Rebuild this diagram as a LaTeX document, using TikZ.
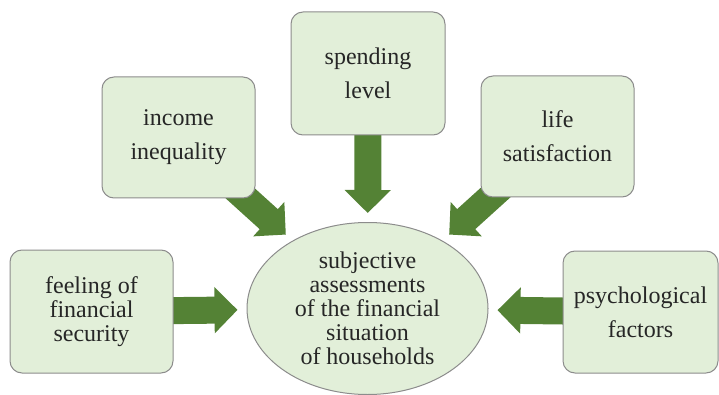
\documentclass[tikz,border=0pt]{standalone}
\usepackage{fontspec}
\setmainfont{Liberation Serif}
\usepackage{tikz}
\usetikzlibrary{shapes.geometric}
\usetikzlibrary{arrows.meta}
\usetikzlibrary{backgrounds}

\definecolor{boxfill}{HTML}{E2EFD9}
\definecolor{boxline}{HTML}{8C8C8C}
\definecolor{arrowgreen}{HTML}{548235}
\definecolor{textgray}{HTML}{262626}

\begin{document}
\begin{tikzpicture} [
    x=1pt, y=-1pt,
    every node/.style = {text=textgray, align=center, inner sep=0pt},
    factor/.style = {rectangle, rounded corners=12pt, draw=boxline, fill=boxfill, line width=1pt},
    wide/.style = {font=\fontsize{24}{34}\selectfont},
    tight/.style = {font=\fontsize{24}{24}\selectfont},
    bigarrow/.style = {draw=arrowgreen, line width=27pt, -{Triangle[width=45pt,length=23pt]}, shorten >=9pt}
]
    \useasboundingbox (0,0) rectangle (719,395);

    \node [ellipse, draw=boxline, fill=boxfill, line width=1pt, minimum width=241pt, minimum height=172pt, tight] (subj) at (367.5,308.5)
        {subjective\\assessments\\of the financial\\situation\\of households};

    \node [factor, tight, minimum width=163pt, minimum height=123pt] (security) at (91.5,311.5) {feeling of\\financial\\security};
    \node [factor, wide, minimum width=153pt, minimum height=121pt] (income) at (178.5,137.5) {income\\inequality};
    \node [factor, wide, minimum width=154pt, minimum height=123pt] (spending) at (368,73.5) {spending\\level};
    \node [factor, wide, minimum width=153pt, minimum height=121pt] (life) at (557.5,136.5) {life\\satisfaction};
    \node [factor, wide, minimum width=155pt, minimum height=122pt] (psych) at (640.5,312) {psychological\\factors};

    \begin{scope}[on background layer]
        \foreach \src in {security, income, spending, life, psych}
            \draw [bigarrow] (\src.center) -- (subj);
    \end{scope}
\end{tikzpicture}
\end{document}
